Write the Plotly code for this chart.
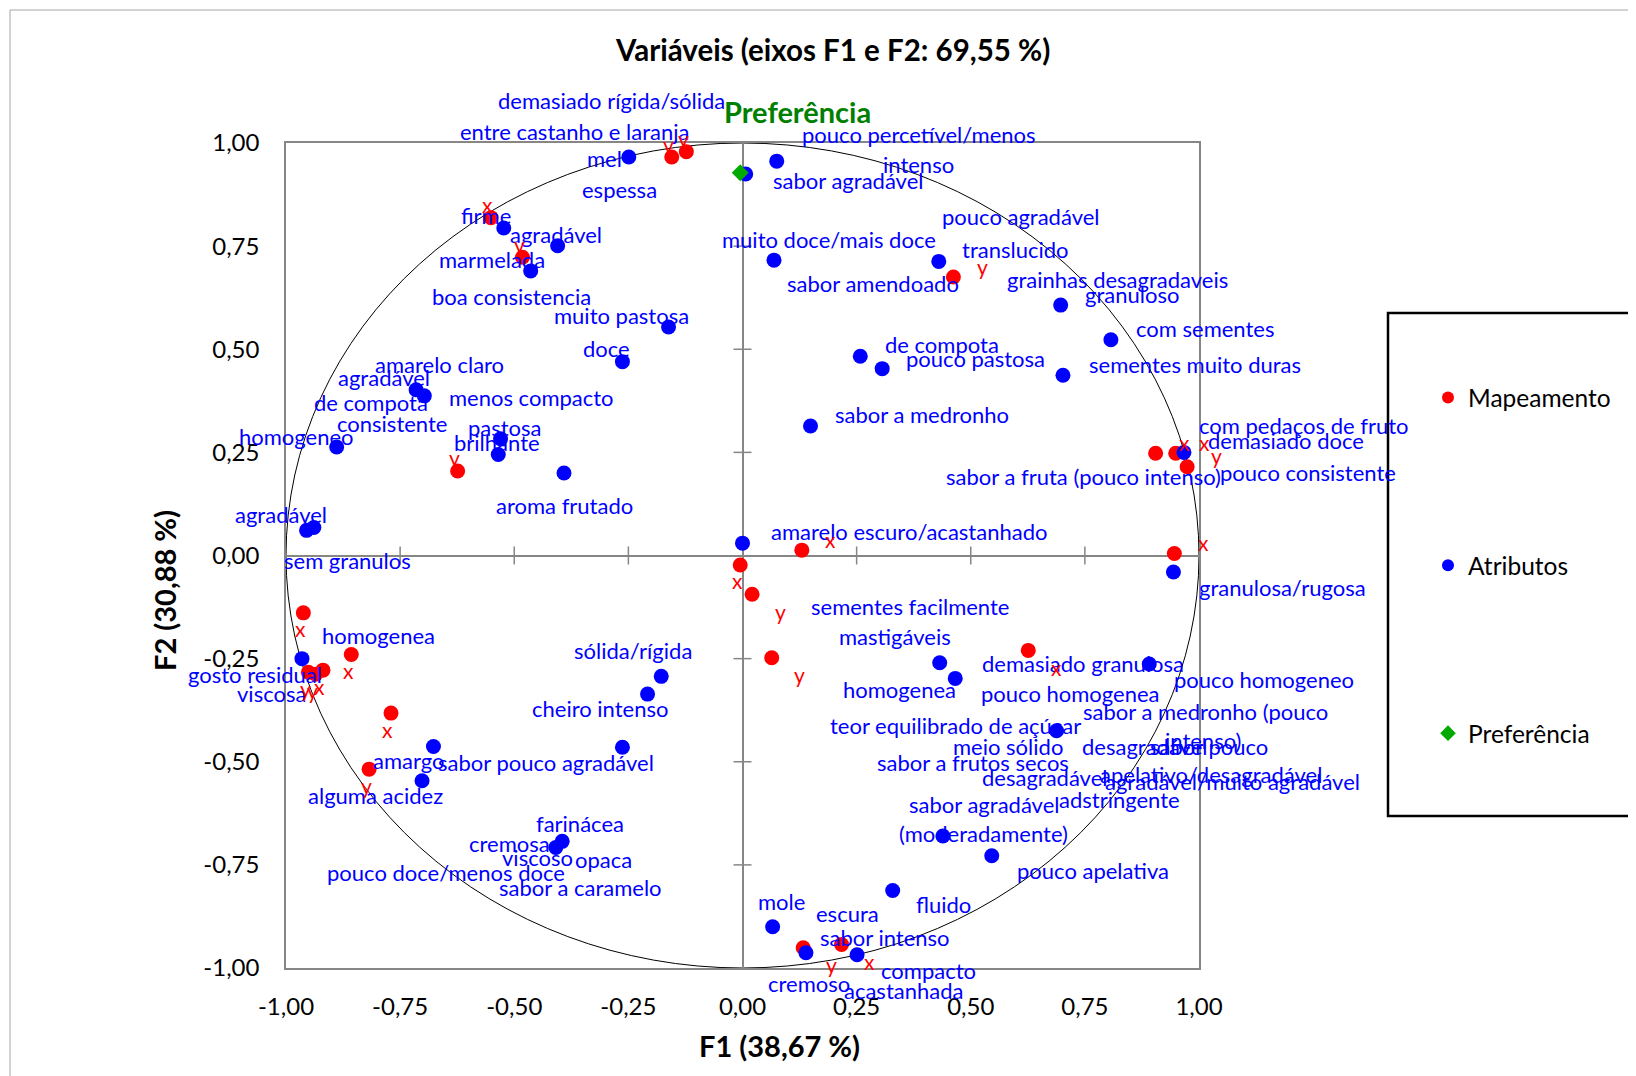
import plotly.graph_objects as go

# ---------------- data ----------------
attr_x = [-0.249, 0.007, 0.075, -0.523, -0.405, -0.464, 0.069, 0.430, -0.162, -0.263,
          0.697, 0.807, 0.258, 0.306, 0.702, 0.149, -0.715, -0.697, -0.889, -0.530,
          -0.535, -0.391, -0.955, -0.939, 0.000, 0.967, 0.944, -0.965, -0.178, -0.208,
          -0.677, -0.263, -0.702, -0.395, -0.409, 0.432, 0.466, 0.891, 0.688, 0.439,
          0.546, 0.329, 0.066, 0.139, 0.251]
attr_y = [0.966, 0.925, 0.956, 0.794, 0.751, 0.690, 0.716, 0.713, 0.554, 0.470,
          0.607, 0.523, 0.483, 0.453, 0.437, 0.314, 0.402, 0.387, 0.263, 0.283,
          0.245, 0.200, 0.061, 0.068, 0.030, 0.250, -0.040, -0.250, -0.293, -0.336,
          -0.463, -0.465, -0.546, -0.693, -0.708, -0.260, -0.298, -0.263, -0.425, -0.680,
          -0.728, -0.812, -0.900, -0.963, -0.968]

map_x = [-0.155, -0.123, -0.551, -0.482, 0.462, -0.624, 0.905, 0.949, 0.974, 0.130,
         0.946, -0.005, 0.021, -0.962, 0.064, 0.626, -0.857, -0.951, -0.935, -0.919,
         -0.770, -0.818, 0.133, 0.217]
map_y = [0.966, 0.979, 0.819, 0.723, 0.675, 0.205, 0.248, 0.248, 0.215, 0.013,
         0.005, -0.023, -0.094, -0.139, -0.248, -0.230, -0.240, -0.283, -0.288, -0.278,
         -0.382, -0.518, -0.951, -0.943]
map_labels = ["y", "y", "x", "y", "y", "y", "x", "x", "y", "x",
              "x", "x", "y", "x", "y", "x", "x", "y", "y", "x",
              "x", "y", "y", "x"]

pref_x = [-0.005]
pref_y = [0.928]
pref_label = "Preferência"

tick_vals = [-1.0, -0.75, -0.5, -0.25, 0.0, 0.25, 0.5, 0.75, 1.0]
tick_text = [f"{v:.2f}".replace(".", ",") for v in tick_vals]

title_text = "Variáveis (eixos F1 e F2: 69,55 %)"
x_title = "F1 (38,67 %)"
y_title = "F2 (30,88 %)"

# attribute label texts with their placement (in axis units)
attr_labels = [
    ("demasiado rígida/sólida", -0.286, 1.102), ("entre castanho e laranja", -0.368, 1.029),
    ("mel", -0.302, 0.963), ("espessa", -0.270, 0.887),
    ("pouco percetível/menos", 0.386, 1.021), ("intenso", 0.386, 0.948),
    ("sabor agradável", 0.231, 0.908), ("firme", -0.562, 0.824),
    ("agradável", -0.409, 0.779), ("marmelada", -0.549, 0.718),
    ("boa consistencia", -0.505, 0.627), ("muito pastosa", -0.265, 0.582),
    ("doce", -0.297, 0.501), ("muito doce/mais doce", 0.190, 0.766),
    ("pouco agradável", 0.610, 0.822), ("translucido", 0.599, 0.743),
    ("sabor amendoado", 0.286, 0.660), ("grainhas desagradaveis", 0.821, 0.670),
    ("granuloso", 0.853, 0.632), ("com sementes", 1.013, 0.551),
    ("de compota", 0.437, 0.511), ("pouco pastosa", 0.510, 0.478),
    ("sementes muito duras", 0.992, 0.463), ("sabor a medronho", 0.394, 0.341),
    ("amarelo claro", -0.663, 0.463), ("agradável", -0.786, 0.432),
    ("de compota", -0.814, 0.372), ("menos compacto", -0.462, 0.384),
    ("consistente", -0.768, 0.319), ("homogeneo", -0.978, 0.288),
    ("pastosa", -0.521, 0.311), ("brilhante", -0.537, 0.273),
    ("aroma frutado", -0.389, 0.121), ("agradável", -1.010, 0.099),
    ("sem granulos", -0.866, -0.013), ("com pedaços de fruto", 1.230, 0.316),
    ("demasiado doce", 1.191, 0.278), ("sabor a fruta (pouco intenso)", 0.746, 0.192),
    ("pouco consistente", 1.239, 0.202), ("amarelo escuro/acastanhado", 0.364, 0.058),
    ("granulosa/rugosa", 1.182, -0.078), ("sementes facilmente", 0.366, -0.124),
    ("mastigáveis", 0.334, -0.197), ("homogenea", 0.345, -0.324),
    ("demasiado granulosa", 0.745, -0.263), ("pouco homogenea", 0.718, -0.334),
    ("pouco homogeneo", 1.143, -0.301), ("sabor a medronho (pouco", 1.015, -0.377),
    ("intenso)", 1.008, -0.448), ("teor equilibrado de açúcar", 0.466, -0.412),
    ("meio sólido", 0.581, -0.463), ("desagradável", 0.880, -0.463),
    ("sabor pouco", 1.022, -0.463), ("sabor a frutos secos", 0.505, -0.501),
    ("desagradável", 0.661, -0.539), ("apelativo/desagradável", 1.026, -0.531),
    ("agradável/muito agradável", 1.074, -0.549), ("adstringente", 0.825, -0.592),
    ("sabor agradável", 0.528, -0.604), ("(moderadamente)", 0.528, -0.673),
    ("pouco apelativa", 0.768, -0.764), ("fluido", 0.441, -0.847),
    ("mole", 0.085, -0.839), ("escura", 0.229, -0.867),
    ("sabor intenso", 0.313, -0.925), ("compacto", 0.407, -1.006),
    ("cremoso", 0.146, -1.037), ("acastanhada", 0.352, -1.054),
    ("homogenea", -0.798, -0.195), ("sólida/rígida", -0.240, -0.230),
    ("gosto residual", -1.067, -0.288), ("viscosa", -1.031, -0.334),
    ("cheiro intenso", -0.313, -0.372), ("amargo", -0.731, -0.498),
    ("sabor pouco agradável", -0.430, -0.503), ("alguma acidez", -0.805, -0.582),
    ("farinácea", -0.357, -0.650), ("cremosa", -0.510, -0.698),
    ("viscoso", -0.450, -0.731), ("opaca", -0.304, -0.738),
    ("pouco doce/menos doce", -0.649, -0.769), ("sabor a caramelo", -0.354, -0.804),
]

# label placement for the red x/y markers: a=above, b=below, r=right-above, rb=right-below
map_label_pos = ["a", "a", "a", "a", "r", "a", "r", "r", "r", "r",
                 "r", "b", "rb", "b", "rb", "rb", "b", "b", "b", "b",
                 "b", "b", "rb", "rb"]
pos_shift = {"a": (-3, 13), "b": (-3, -16), "r": (29, 11), "rb": (28, -17)}

FONT = "Lato"
BLUE = "#0000FF"
RED = "#FF0000"
GREEN = "#00AA00"
AXIS_GRAY = "#868686"

# ---------------- layout geometry ----------------
FIG_W, FIG_H = 1636, 1076
L, T, PW, PH = 278, 135, 913, 825
R = FIG_W - L - PW
B = FIG_H - T - PH
AX_MIN, AX_MAX = -1.0, 1.0


def px2paper_x(px):
    return (px - L) / PW


def px2paper_y(py):
    return (T + PH - py) / PH


def ax2paper(v):
    return (v - AX_MIN) / (AX_MAX - AX_MIN)


fig = go.Figure()
fig.add_trace(go.Scatter(x=map_x, y=map_y, mode="markers", name="Mapeamento",
                         legendgroup="g1",
                         marker=dict(color=RED, size=15, line=dict(width=0))))
fig.add_trace(go.Scatter(x=attr_x, y=attr_y, mode="markers", name="Atributos",
                         legendgroup="g2",
                         marker=dict(color=BLUE, size=15, line=dict(width=0))))
fig.add_trace(go.Scatter(x=pref_x, y=pref_y, mode="markers", name="Preferência",
                         legendgroup="g3",
                         marker=dict(color=GREEN, size=13, symbol="diamond", line=dict(width=0))))

annotations = []
for txt, lx, ly in attr_labels:
    annotations.append(dict(x=ax2paper(lx), y=ax2paper(ly), xref="paper", yref="paper",
                            text=txt, showarrow=False,
                            font=dict(family=FONT, size=22, color=BLUE),
                            xanchor="center", yanchor="middle"))
for px_, py_, lab, pos in zip(map_x, map_y, map_labels, map_label_pos):
    dx, dy = pos_shift[pos]
    annotations.append(dict(x=ax2paper(px_), y=ax2paper(py_), xref="paper", yref="paper",
                            text=lab, showarrow=False, xshift=dx, yshift=dy,
                            font=dict(family=FONT, size=21, color=RED),
                            xanchor="center", yanchor="middle"))
annotations.append(dict(x=ax2paper(0.12), y=ax2paper(1.077), xref="paper", yref="paper",
                        text=f"<b>{pref_label}</b>", showarrow=False,
                        font=dict(family=FONT, size=29, color="#008000"),
                        xanchor="center", yanchor="middle"))
annotations.append(dict(x=px2paper_x(824), y=px2paper_y(42), xref="paper", yref="paper",
                        text=f"<b>{title_text}</b>", showarrow=False,
                        font=dict(family=FONT, size=29.5, color="black"),
                        xanchor="center", yanchor="middle"))
annotations.append(dict(x=px2paper_x(771), y=px2paper_y(1037), xref="paper", yref="paper",
                        text=f"<b>{x_title}</b>", showarrow=False,
                        font=dict(family=FONT, size=29, color="black"),
                        xanchor="center", yanchor="middle"))
annotations.append(dict(x=px2paper_x(156), y=px2paper_y(583), xref="paper", yref="paper",
                        text=f"<b>{y_title}</b>", showarrow=False, textangle=-90,
                        font=dict(family=FONT, size=29, color="black"),
                        xanchor="center", yanchor="middle"))

shapes = []
# correlation circle
shapes.append(dict(type="circle", xref="x", yref="y", x0=-1, y0=-1, x1=1, y1=1,
                   line=dict(color="black", width=1), layer="below"))
# cross ticks on the zero lines
for t in tick_vals:
    if t in (-1.0, 0.0, 1.0):
        continue
    shapes.append(dict(type="line", xref="x", yref="y", xsizemode="pixel", xanchor=0,
                       x0=-9, x1=9, y0=t, y1=t, line=dict(color=AXIS_GRAY, width=1.5)))
    shapes.append(dict(type="line", xref="x", yref="y", ysizemode="pixel", yanchor=0,
                       y0=-9, y1=9, x0=t, x1=t, line=dict(color=AXIS_GRAY, width=1.5)))
# legend frame
shapes.append(dict(type="rect", xref="paper", yref="paper",
                   x0=px2paper_x(1380), x1=px2paper_x(1700),
                   y0=px2paper_y(808), y1=px2paper_y(305),
                   line=dict(color="black", width=2.5)))
# outer chart frame
shapes.append(dict(type="rect", xref="paper", yref="paper",
                   x0=px2paper_x(2), x1=px2paper_x(1700),
                   y0=px2paper_y(1150), y1=px2paper_y(2),
                   line=dict(color="#A6A6A6", width=1)))

axis_common = dict(range=[AX_MIN, AX_MAX], showgrid=False, zeroline=True, zerolinecolor=AXIS_GRAY,
                   zerolinewidth=1.5, showline=True, mirror=True, linecolor=AXIS_GRAY,
                   linewidth=1.5, ticks="", tickvals=tick_vals, ticktext=tick_text,
                   tickfont=dict(family=FONT, size=24, color="black"))

fig.update_layout(
    width=FIG_W, height=FIG_H,
    margin=dict(l=L, r=R, t=T, b=B),
    paper_bgcolor="white", plot_bgcolor="white",
    xaxis=dict(**axis_common, ticklabelstandoff=16),
    yaxis=dict(**axis_common, ticklabelstandoff=20),
    showlegend=True,
    legend=dict(x=px2paper_x(1420), y=px2paper_y(367), xanchor="left", yanchor="top",
                font=dict(family=FONT, size=24.5, color="black"),
                bgcolor="rgba(0,0,0,0)", borderwidth=0,
                tracegroupgap=133, itemsizing="constant"),
    annotations=annotations,
    shapes=shapes,
)

fig.write_html("out.html")
